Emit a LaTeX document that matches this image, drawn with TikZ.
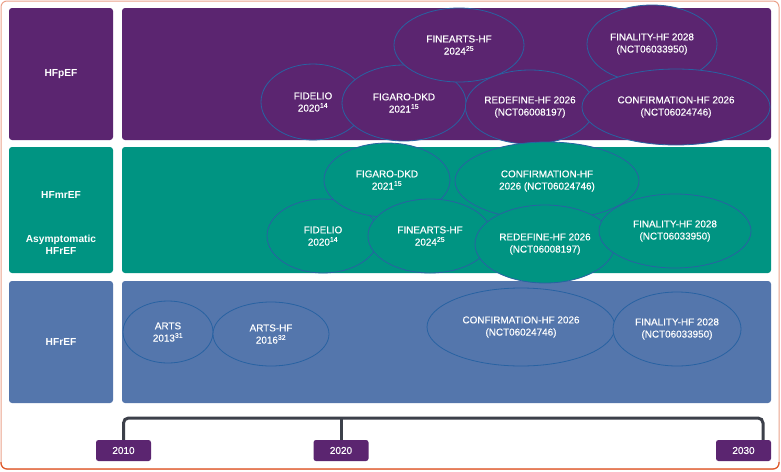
\documentclass[tikz,border=0pt]{standalone}
\usepackage{fontspec}
\setmainfont{Liberation Sans}
\newfontfamily\trialfont[FakeBold=0.35]{Liberation Sans}
\usetikzlibrary{shapes.geometric}
\definecolor{hfp}{HTML}{5B2570}
\definecolor{hfm}{HTML}{009482}
\definecolor{hfr}{HTML}{5476AC}
\definecolor{eline}{HTML}{2862A2}
\definecolor{tline}{HTML}{3C404A}
\definecolor{framec}{HTML}{EBA28B}
\definecolor{frameb}{HTML}{E0592B}
\begin{document}
\begin{tikzpicture}[x=1pt,y=-1pt,
  rowbox/.style={rectangle, rounded corners=3pt, inner sep=0pt, text=white, align=center,
    font=\fontsize{10.2}{12}\selectfont\bfseries},
  lbl/.style={text=white, align=center, inner sep=0pt, font=\fontsize{10.2}{12}\selectfont\bfseries},
  trial/.style={ellipse, draw=eline, line width=0.8pt, inner sep=0pt, text=white, align=center,
    font=\trialfont\fontsize{9.9}{12.2}\selectfont},
  yeartag/.style={rectangle, rounded corners=2.5pt, fill=hfp, text=white, inner sep=0pt,
    minimum width=55pt, minimum height=21pt, font=\trialfont\fontsize{10}{12}\selectfont},
  tl/.style={draw=tline, line width=3pt, rounded corners=5pt}
]
\useasboundingbox (0,0) rectangle (781,471);
\fill[white] (0,0) rectangle (781,471);
\draw[framec, line width=1pt, rounded corners=6pt] (1,1) rectangle (779,469);
\draw[frameb, line width=1.2pt, rounded corners=6pt] (1,462) -- (1,469) -- (779,469) -- (779,462);

% row boxes
\node[rowbox, fill=hfp, minimum width=104pt, minimum height=132pt] (lp) at (61,74) {HFpEF};
\node[rowbox, fill=hfp, minimum width=649pt, minimum height=132pt] (mp) at (446.5,74) {};
\node[rowbox, fill=hfm, minimum width=104pt, minimum height=126pt] (lm) at (61,210) {};
\node[rowbox, fill=hfm, minimum width=649pt, minimum height=126pt] (mm) at (446.5,210) {};
\node[rowbox, fill=hfr, minimum width=104pt, minimum height=122pt] (lr) at (61,342) {HFrEF};
\node[rowbox, fill=hfr, minimum width=649pt, minimum height=122pt] (mr) at (446.5,342) {};
\node[lbl] (lm1) at (61,195) {HFmrEF};
\node[lbl] (lm2) at (61,245) {Asymptomatic\\HFrEF};

% HFpEF trials
\node[trial, fill=hfp, minimum width=104pt, minimum height=76pt] (p1) at (313,102) {FIDELIO\\2020\textsuperscript{14}};
\node[trial, fill=hfp, minimum width=124pt, minimum height=76pt] (p2) at (404,103) {FIGARO-DKD\\2021\textsuperscript{15}};
\node[trial, fill=hfp, minimum width=130pt, minimum height=74pt] (p3) at (459,45) {FINEARTS-HF\\2024\textsuperscript{25}};
\node[trial, fill=hfp, minimum width=124pt, minimum height=74pt] (p4) at (530,107) {REDEFINE-HF 2026\\(NCT06008197)};
\node[trial, fill=hfp, minimum width=130pt, minimum height=78pt] (p5) at (652,44) {FINALITY-HF 2028\\(NCT06033950)};
\node[trial, fill=hfp, minimum width=188pt, minimum height=76pt] (p6) at (676,107) {CONFIRMATION-HF 2026\\(NCT06024746)};

% HFmrEF trials
\node[trial, fill=hfm, minimum width=112pt, minimum height=74pt] (m1) at (323,236) {FIDELIO\\2020\textsuperscript{14}};
\node[trial, fill=hfm, minimum width=126pt, minimum height=74pt] (m2) at (387,180) {FIGARO-DKD\\2021\textsuperscript{15}};
\node[trial, fill=hfm, minimum width=124pt, minimum height=74pt] (m3) at (430,236) {FINEARTS-HF\\2024\textsuperscript{25}};
\node[trial, fill=hfm, minimum width=184pt, minimum height=78pt] (m4) at (547,181) {CONFIRMATION-HF\\2026 (NCT06024746)};
\node[trial, fill=hfm, minimum width=140pt, minimum height=78pt] (m5) at (545,244) {REDEFINE-HF 2026\\(NCT06008197)};
\node[trial, fill=hfm, minimum width=152pt, minimum height=74pt] (m6) at (675,231) {FINALITY-HF 2028\\(NCT06033950)};

% HFrEF trials
\node[trial, fill=hfr, minimum width=90pt, minimum height=62pt] (r1) at (168,332) {ARTS\\2013\textsuperscript{31}};
\node[trial, fill=hfr, minimum width=116pt, minimum height=64pt] (r2) at (271,334) {ARTS-HF\\2016\textsuperscript{32}};
\node[trial, fill=hfr, minimum width=188pt, minimum height=78pt] (r3) at (521,327) {CONFIRMATION-HF 2026\\(NCT06024746)};
\node[trial, fill=hfr, minimum width=128pt, minimum height=74pt] (r4) at (677,329) {FINALITY-HF 2028\\(NCT06033950)};

% timeline
\coordinate (c10) at (123.5,440);
\coordinate (c20) at (341,440);
\coordinate (c30) at (763,440);
\coordinate (hr) at (763,418);
\draw[tl] (c10) |- (hr) -- (c30);
\draw[tl, rounded corners=0pt] (c20) -- (c20 |- hr);
\node[yeartag] (t2010) at (123.5,450.5) {2010};
\node[yeartag] (t2020) at (341,450.5) {2020};
\node[yeartag] (t2030) at (743.5,450.5) {2030};
\end{tikzpicture}
\end{document}
